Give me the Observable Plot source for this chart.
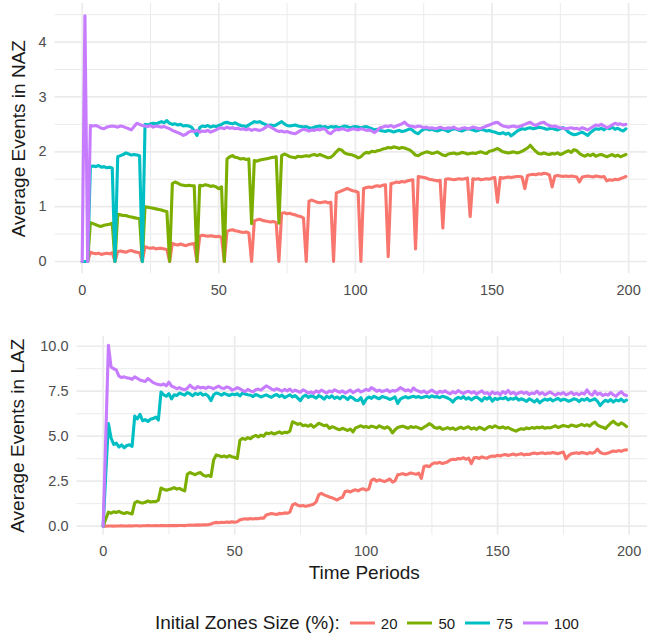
<!DOCTYPE html>
<html>
<head>
<meta charset="utf-8">
<script src="https://cdn.jsdelivr.net/npm/d3@7"></script>
<script src="https://cdn.jsdelivr.net/npm/@observablehq/plot@0.6"></script>
<style>
  body { margin: 0; background: #fff; font-family: "Liberation Sans", Arial, sans-serif; }
  #wrap { position: relative; width: 647px; height: 636px; overflow: hidden; }
  #naz { position: absolute; left: 0; top: 0; }
  #laz { position: absolute; left: 0; top: 300px; }
  #legend { position: absolute; left: 155px; top: 611px; height: 24px; display: flex; align-items: center; white-space: nowrap; }
  #legend .title { font-size: 19px; color: #1a1a1a; margin-right: 10px; }
  #legend .item { display: flex; align-items: center; margin-right: 10px; }
  #legend .item span { font-size: 15px; color: #1a1a1a; margin-left: 6px; }
</style>
</head>
<body>
<div id="wrap">
  <div id="naz"></div>
  <div id="laz"></div>
  <div id="legend"></div>
</div>
<script>
// Initial zone sizes (%) and their colours
const sizes = ["20", "50", "75", "100"];
const colors = ["#F8766D", "#7CAE00", "#00BFC4", "#C77CFF"];

// Axis ticks
const xTicks = [0, 50, 100, 150, 200];
const xMinor = [25, 75, 125, 175];
const nazTicks = [0, 1, 2, 3, 4];
const nazMinor = [0.5, 1.5, 2.5, 3.5, 4.5];
const lazTicks = [0, 2.5, 5, 7.5, 10];
const lazMinor = [1.25, 3.75, 6.25, 8.75];

// Average events in NAZ, periods 0..199
const naz20 = [
  0, 0, 0, 0.17, 0.15, 0.14, 0.15, 0.13, 0.14, 0.15,
  0.14, 0.16, 0, 0.18, 0.19, 0.18, 0.17, 0.19, 0.20, 0.18,
  0.17, 0.16, 0, 0.27, 0.25, 0.24, 0.25, 0.23, 0.24, 0.24,
  0.23, 0.22, 0, 0.33, 0.31, 0.30, 0.32, 0.30, 0.29, 0.31,
  0.32, 0.33, 0, 0.46, 0.48, 0.47, 0.46, 0.47, 0.46, 0.45,
  0.46, 0.44, 0, 0.55, 0.57, 0.58, 0.56, 0.55, 0.54, 0.53,
  0.54, 0.52, 0, 0.74, 0.76, 0.77, 0.75, 0.74, 0.73, 0.72,
  0.73, 0.71, 0, 0.88, 0.89, 0.87, 0.88, 0.86, 0.85, 0.83,
  0.82, 0.79, 0, 1.10, 1.12, 1.10, 1.08, 1.07, 1.08, 1.09,
  1.07, 1.08, 0, 1.25, 1.27, 1.29, 1.31, 1.33, 1.31, 1.29,
  1.28, 1.26, 0, 1.33, 1.35, 1.36, 1.35, 1.37, 1.38, 1.37,
  1.39, 1.40, 0.09, 1.42, 1.43, 1.45, 1.44, 1.46, 1.45, 1.47,
  1.48, 1.49, 0.23, 1.55, 1.54, 1.53, 1.52, 1.50, 1.49, 1.48,
  1.47, 1.48, 0.61, 1.50, 1.51, 1.50, 1.49, 1.50, 1.51, 1.50,
  1.51, 1.52, 0.82, 1.51, 1.50, 1.51, 1.49, 1.50, 1.51, 1.50,
  1.52, 1.53, 1.08, 1.53, 1.52, 1.53, 1.54, 1.53, 1.54, 1.55,
  1.55, 1.54, 1.33, 1.57, 1.58, 1.59, 1.58, 1.60, 1.59, 1.61,
  1.60, 1.58, 1.36, 1.56, 1.57, 1.56, 1.55, 1.56, 1.55, 1.56,
  1.55, 1.54, 1.45, 1.54, 1.55, 1.56, 1.55, 1.54, 1.56, 1.55,
  1.54, 1.55, 1.47, 1.49, 1.48, 1.50, 1.49, 1.51, 1.53, 1.55
];
const naz50 = [
  0, 0, 0, 0.71, 0.69, 0.67, 0.65, 0.64, 0.66, 0.67,
  0.68, 0.70, 0, 0.86, 0.85, 0.84, 0.84, 0.82, 0.81, 0.80,
  0.79, 0.78, 0, 1.00, 0.99, 0.98, 0.97, 0.96, 0.95, 0.94,
  0.92, 0.91, 0, 1.42, 1.45, 1.43, 1.40, 1.39, 1.38, 1.39,
  1.38, 1.38, 0, 1.39, 1.38, 1.40, 1.39, 1.37, 1.38, 1.36,
  1.33, 1.36, 0, 1.87, 1.91, 1.93, 1.90, 1.89, 1.87, 1.88,
  1.86, 1.87, 0.69, 1.84, 1.83, 1.85, 1.86, 1.87, 1.88, 1.89,
  1.90, 1.91, 0.70, 1.93, 1.96, 1.94, 1.91, 1.90, 1.89, 1.92,
  1.91, 1.92, 1.93, 1.92, 1.94, 1.95, 1.93, 1.95, 1.93, 1.91,
  1.89, 1.90, 1.94, 2.00, 2.05, 2.03, 1.98, 1.96, 1.95, 1.94,
  1.92, 1.89, 1.91, 1.96, 1.99, 1.98, 2.01, 2.00, 2.02, 2.03,
  2.05, 2.06, 2.08, 2.07, 2.09, 2.08, 2.06, 2.08, 2.07, 2.05,
  2.03, 1.99, 1.94, 1.93, 1.96, 1.98, 2.00, 1.99, 1.97, 1.98,
  2.00, 1.97, 1.94, 1.93, 1.96, 1.97, 1.98, 1.96, 1.97, 1.99,
  1.98, 1.96, 1.97, 1.98, 1.97, 1.99, 2.00, 1.98, 1.97, 2.01,
  2.02, 2.04, 2.06, 2.03, 2.00, 1.99, 1.98, 1.99, 2.00, 1.98,
  1.99, 2.01, 2.04, 2.07, 2.12, 2.06, 2.01, 1.97, 1.96, 1.98,
  1.96, 1.95, 1.97, 1.96, 1.98, 1.95, 1.97, 2.00, 2.02, 1.99,
  2.04, 2.02, 1.97, 1.94, 1.92, 1.95, 1.93, 1.96, 1.92, 1.94,
  1.95, 1.93, 1.91, 1.93, 1.95, 1.92, 1.94, 1.91, 1.93, 1.95
];
const naz75 = [
  0, 0, 0, 1.73, 1.74, 1.73, 1.75, 1.72, 1.73, 1.71,
  1.72, 1.70, 0, 1.91, 1.93, 1.95, 1.98, 1.96, 1.94, 1.95,
  1.94, 1.93, 0, 2.50, 2.49, 2.51, 2.52, 2.51, 2.53, 2.55,
  2.53, 2.57, 2.52, 2.50, 2.51, 2.49, 2.50, 2.47, 2.48, 2.47,
  2.45, 2.38, 2.30, 2.44, 2.47, 2.46, 2.48, 2.45, 2.47, 2.46,
  2.48, 2.50, 2.53, 2.54, 2.52, 2.51, 2.53, 2.50, 2.48, 2.47,
  2.46, 2.49, 2.52, 2.55, 2.54, 2.55, 2.52, 2.50, 2.48, 2.49,
  2.47, 2.49, 2.52, 2.55, 2.51, 2.48, 2.47, 2.48, 2.49, 2.47,
  2.46, 2.45, 2.46, 2.44, 2.43, 2.45, 2.46, 2.47, 2.45, 2.46,
  2.44, 2.46, 2.45, 2.46, 2.44, 2.45, 2.47, 2.46, 2.44, 2.45,
  2.46, 2.45, 2.44, 2.45, 2.46, 2.44, 2.42, 2.40, 2.41, 2.39,
  2.38, 2.37, 2.39, 2.38, 2.36, 2.38, 2.39, 2.37, 2.38, 2.40,
  2.42, 2.39, 2.35, 2.33, 2.38, 2.41, 2.42, 2.40, 2.41, 2.39,
  2.38, 2.40, 2.41, 2.39, 2.37, 2.40, 2.42, 2.41, 2.39, 2.38,
  2.40, 2.42, 2.41, 2.40, 2.38, 2.39, 2.41, 2.40, 2.38, 2.39,
  2.37, 2.36, 2.34, 2.33, 2.35, 2.32, 2.34, 2.29, 2.33, 2.37,
  2.40, 2.42, 2.41, 2.43, 2.44, 2.42, 2.43, 2.45, 2.44, 2.43,
  2.41, 2.42, 2.43, 2.41, 2.40, 2.42, 2.44, 2.41, 2.36, 2.33,
  2.31, 2.32, 2.34, 2.36, 2.33, 2.30, 2.35, 2.39, 2.42, 2.41,
  2.43, 2.40, 2.44, 2.42, 2.45, 2.41, 2.43, 2.40, 2.38, 2.42
];
const naz100 = [
  0, 4.48, 0, 2.48, 2.47, 2.48, 2.46, 2.43, 2.42, 2.45,
  2.46, 2.47, 2.46, 2.45, 2.47, 2.46, 2.44, 2.42, 2.40, 2.46,
  2.52, 2.50, 2.48, 2.47, 2.46, 2.48, 2.45, 2.47, 2.46, 2.45,
  2.46, 2.44, 2.42, 2.39, 2.37, 2.35, 2.33, 2.30, 2.32, 2.36,
  2.38, 2.37, 2.39, 2.36, 2.38, 2.37, 2.39, 2.36, 2.38, 2.40,
  2.43, 2.44, 2.42, 2.45, 2.43, 2.44, 2.42, 2.43, 2.41, 2.42,
  2.40, 2.42, 2.39, 2.41, 2.40, 2.39, 2.41, 2.44, 2.48, 2.45,
  2.42, 2.39, 2.37, 2.38, 2.36, 2.37, 2.35, 2.34, 2.33, 2.36,
  2.39, 2.41, 2.40, 2.38, 2.40, 2.39, 2.41, 2.40, 2.42, 2.41,
  2.35, 2.33, 2.38, 2.41, 2.40, 2.42, 2.41, 2.39, 2.40, 2.42,
  2.41, 2.40, 2.42, 2.41, 2.39, 2.40, 2.38, 2.35, 2.39, 2.44,
  2.45, 2.47, 2.46, 2.48, 2.45, 2.47, 2.49, 2.51, 2.54, 2.49,
  2.47, 2.46, 2.45, 2.47, 2.46, 2.44, 2.45, 2.43, 2.44, 2.42,
  2.43, 2.45, 2.43, 2.42, 2.44, 2.43, 2.45, 2.42, 2.41, 2.43,
  2.44, 2.42, 2.43, 2.45, 2.44, 2.42, 2.43, 2.45, 2.47, 2.49,
  2.51, 2.53, 2.54, 2.50, 2.47, 2.46, 2.45, 2.46, 2.47, 2.45,
  2.46, 2.48, 2.50, 2.52, 2.54, 2.50, 2.48, 2.51, 2.53, 2.54,
  2.50, 2.48, 2.46, 2.47, 2.45, 2.44, 2.43, 2.42, 2.43, 2.44,
  2.42, 2.43, 2.41, 2.44, 2.42, 2.40, 2.43, 2.46, 2.49, 2.48,
  2.50, 2.47, 2.44, 2.46, 2.49, 2.52, 2.50, 2.51, 2.49, 2.50
];

// Average events in LAZ, periods 0..199
const laz20 = [
  0, 0, 0.01, 0.01, 0, 0.01, 0.01, 0.02, 0.01, 0.01,
  0.02, 0.01, 0.02, 0.02, 0.01, 0.02, 0.02, 0.03, 0.02, 0.02,
  0.03, 0.02, 0.03, 0.03, 0.02, 0.03, 0.04, 0.03, 0.03, 0.04,
  0.04, 0.03, 0.05, 0.06, 0.05, 0.06, 0.07, 0.06, 0.08, 0.07,
  0.08, 0.12, 0.18, 0.21, 0.19, 0.22, 0.20, 0.23, 0.21, 0.24,
  0.22, 0.25, 0.35, 0.38, 0.41, 0.39, 0.42, 0.40, 0.43, 0.41,
  0.45, 0.44, 0.62, 0.66, 0.70, 0.68, 0.65, 0.71, 0.69, 0.74,
  0.72, 0.78, 1.18, 1.25, 1.16, 1.12, 1.15, 1.10, 1.14, 1.18,
  1.22, 1.35, 1.75, 1.82, 1.74, 1.68, 1.62, 1.58, 1.52, 1.45,
  1.55, 1.60, 1.92, 1.95, 1.90, 1.98, 2.02, 1.96, 2.05, 2.08,
  2.00, 2.06, 2.55, 2.62, 2.50, 2.58, 2.52, 2.48, 2.55, 2.62,
  2.45, 2.52, 2.85, 2.88, 2.92, 2.86, 2.90, 2.96, 2.92, 2.88,
  2.95, 2.66, 3.32, 3.36, 3.30, 3.45, 3.52, 3.50, 3.55, 3.48,
  3.52, 3.58, 3.68, 3.72, 3.70, 3.76, 3.74, 3.80, 3.72, 3.78,
  3.48, 3.80, 3.82, 3.76, 3.85, 3.80, 3.78, 3.86, 3.90, 3.88,
  3.94, 3.90, 3.96, 3.98, 3.93, 3.97, 4.01, 3.95, 3.99, 4.03,
  3.96, 4.00, 3.98, 4.04, 4.06, 4.02, 4.05, 4.08, 4.03, 4.07,
  4.05, 4.09, 4.06, 4.03, 4.08, 4.12, 3.74, 3.92, 4.02, 4.05,
  4.08, 4.04, 4.10, 4.06, 4.02, 4.09, 4.05, 4.12, 4.28, 4.10,
  4.04, 4.02, 4.06, 4.12, 4.18, 4.15, 4.20, 4.16, 4.22, 4.24
];
const laz50 = [
  0, 0.40, 0.78, 0.72, 0.80, 0.76, 0.82, 0.74, 0.70, 0.76,
  0.72, 0.68, 1.30, 1.38, 1.32, 1.28, 1.33, 1.40, 1.34, 1.37,
  1.36, 1.45, 2.12, 2.05, 2.00, 2.04, 2.08, 2.14, 2.06, 2.10,
  2.02, 1.96, 2.88, 2.98, 2.92, 2.86, 2.94, 2.98, 2.84, 2.78,
  2.82, 2.76, 3.68, 3.96, 3.92, 3.86, 3.90, 3.84, 3.92, 3.86,
  3.82, 3.76, 4.78, 4.88, 4.82, 4.92, 4.86, 4.98, 5.04, 4.96,
  5.06, 5.00, 5.18, 5.14, 5.20, 5.12, 5.18, 5.24, 5.16, 5.22,
  5.20, 5.28, 5.80, 5.74, 5.66, 5.70, 5.58, 5.62, 5.55, 5.64,
  5.50, 5.60, 5.72, 5.66, 5.58, 5.62, 5.44, 5.52, 5.48, 5.40,
  5.36, 5.44, 5.38, 5.32, 5.40, 5.24, 5.46, 5.52, 5.58, 5.50,
  5.54, 5.48, 5.56, 5.52, 5.46, 5.58, 5.50, 5.44, 5.52, 5.42,
  5.18, 5.36, 5.48, 5.52, 5.56, 5.50, 5.44, 5.54, 5.48, 5.52,
  5.46, 5.40, 5.50, 5.58, 5.70, 5.62, 5.48, 5.44, 5.50, 5.38,
  5.42, 5.48, 5.40, 5.46, 5.36, 5.44, 5.50, 5.42, 5.48, 5.52,
  5.40, 5.46, 5.38, 5.50, 5.44, 5.36, 5.46, 5.54, 5.48, 5.58,
  5.50, 5.46, 5.52, 5.44, 5.48, 5.40, 5.34, 5.28, 5.36, 5.42,
  5.38, 5.46, 5.42, 5.48, 5.44, 5.50, 5.46, 5.52, 5.44, 5.48,
  5.46, 5.52, 5.58, 5.48, 5.54, 5.60, 5.56, 5.52, 5.62, 5.58,
  5.54, 5.60, 5.66, 5.58, 5.64, 5.56, 5.70, 5.78, 5.62, 5.54,
  5.50, 5.42, 5.58, 5.72, 5.84, 5.70, 5.62, 5.74, 5.66, 5.54
];
const laz75 = [
  0, 2.90, 5.70, 4.90, 4.55, 4.62, 4.40, 4.52, 4.36, 4.48,
  4.52, 4.44, 6.12, 5.96, 6.22, 5.86, 5.92, 5.82, 5.94, 5.98,
  6.06, 5.90, 7.46, 7.30, 7.22, 7.36, 7.08, 7.30, 7.26, 7.40,
  7.34, 7.28, 7.42, 7.36, 7.24, 7.38, 7.32, 7.40, 7.28, 7.34,
  7.22, 6.98, 7.30, 7.40, 7.36, 7.28, 7.38, 7.32, 7.26, 7.34,
  7.30, 7.36, 7.24, 7.40, 7.34, 7.30, 7.28, 7.20, 7.32, 7.26,
  7.18, 7.24, 7.30, 7.22, 7.16, 7.26, 7.32, 7.20, 7.28, 7.14,
  7.22, 7.30, 7.18, 7.26, 7.12, 6.98, 7.20, 7.28, 7.16, 7.24,
  7.20, 7.12, 7.26, 7.18, 7.06, 7.22, 7.14, 7.24, 7.10, 7.18,
  7.08, 7.22, 7.16, 7.04, 7.20, 7.12, 7.00, 6.98, 7.14, 6.80,
  7.06, 7.18, 7.10, 7.22, 7.14, 7.08, 7.20, 7.16, 7.12, 7.04,
  7.10, 7.18, 6.82, 7.06, 7.14, 7.20, 7.12, 7.18, 7.22, 7.16,
  7.20, 7.14, 7.18, 7.22, 7.16, 7.24, 7.18, 7.20, 7.14, 7.22,
  7.18, 7.12, 7.04, 6.90, 7.08, 7.16, 7.10, 7.20, 7.06, 7.14,
  7.02, 7.12, 7.18, 7.08, 6.96, 7.14, 7.06, 7.18, 6.94, 7.10,
  7.04, 7.12, 7.08, 7.16, 7.02, 7.10, 7.06, 7.14, 7.00, 7.08,
  7.02, 6.94, 7.08, 7.00, 6.90, 7.04, 6.86, 6.98, 7.06, 7.00,
  7.08, 6.96, 7.04, 7.10, 6.98, 7.06, 7.02, 6.94, 7.00, 7.08,
  7.04, 6.92, 7.06, 7.00, 7.10, 6.96, 7.02, 7.08, 6.94, 6.70,
  6.88, 7.00, 6.92, 7.04, 6.90, 7.02, 6.96, 7.06, 6.92, 7.00
];
const laz100 = [
  0, 5.00, 10.05, 8.85, 8.75, 8.68, 8.34, 8.26, 8.30, 8.24,
  8.22, 8.16, 8.30, 8.22, 8.12, 8.08, 8.04, 8.20, 8.10, 7.98,
  7.92, 7.88, 7.84, 7.90, 7.80, 8.00, 7.78, 7.72, 7.64, 7.70,
  7.62, 7.58, 7.66, 7.84, 7.70, 7.64, 7.76, 7.68, 7.72, 7.66,
  7.74, 7.70, 7.64, 7.72, 7.78, 7.68, 7.66, 7.74, 7.70, 7.56,
  7.62, 7.70, 7.64, 7.54, 7.48, 7.60, 7.52, 7.46, 7.58, 7.62,
  7.56, 7.68, 7.80, 7.72, 7.62, 7.56, 7.64, 7.58, 7.50, 7.60,
  7.52, 7.62, 7.48, 7.56, 7.50, 7.44, 7.58, 7.50, 7.40, 7.46,
  7.38, 7.52, 7.44, 7.56, 7.48, 7.40, 7.52, 7.46, 7.58, 7.50,
  7.44, 7.52, 7.40, 7.48, 7.56, 7.42, 7.50, 7.58, 7.46, 7.52,
  7.60, 7.54, 7.70, 7.62, 7.50, 7.56, 7.48, 7.52, 7.58, 7.46,
  7.54, 7.50, 7.58, 7.70, 7.62, 7.52, 7.58, 7.48, 7.68, 7.56,
  7.50, 7.44, 7.52, 7.40, 7.48, 7.56, 7.46, 7.38, 7.50, 7.44,
  7.52, 7.42, 7.36, 7.48, 7.40, 7.54, 7.44, 7.38, 7.46, 7.50,
  7.40, 7.48, 7.34, 7.44, 7.52, 7.38, 7.42, 7.30, 7.46, 7.36,
  7.42, 7.30, 7.48, 7.38, 7.54, 7.36, 7.44, 7.32, 7.40, 7.46,
  7.38, 7.44, 7.32, 7.40, 7.36, 7.50, 7.34, 7.42, 7.30, 7.38,
  7.46, 7.36, 7.28, 7.38, 7.34, 7.42, 7.30, 7.36, 7.44, 7.32,
  7.38, 7.30, 7.40, 7.34, 7.58, 7.36, 7.28, 7.50, 7.32, 7.40,
  7.26, 7.34, 7.28, 7.42, 7.30, 7.22, 7.36, 7.48, 7.32, 7.26
];

// Long-format rows: one per (period, zone size)
function toRows(seriesList) {
  return seriesList.flatMap((values, i) =>
    values.map((v, t) => ({ period: t, value: v, size: sizes[i] })));
}

const FONT = '"Liberation Sans", Arial, sans-serif';
const GRID = "#EBEBEB";

function panel({ rows, yDomain, yTicks, yMinor, yFormat, yLabel, xLabel,
                 width, height, marginLeft, marginTop, marginBottom, xDomain, yTitleDx }) {
  const marks = [
    Plot.ruleY(yMinor, { stroke: GRID, strokeWidth: 1 }),
    Plot.ruleX(xMinor, { stroke: GRID, strokeWidth: 1 }),
    Plot.ruleY(yTicks, { stroke: GRID, strokeWidth: 1.7 }),
    Plot.ruleX(xTicks, { stroke: GRID, strokeWidth: 1.7 }),
    Plot.axisX(xTicks, { tickSize: 0, tickPadding: 11, fontSize: 14.5, label: null }),
    Plot.axisY(yTicks, { tickSize: 0, tickPadding: 8.5, fontSize: 14.5, tickFormat: yFormat, label: null }),
    Plot.lineY(rows, { x: "period", y: "value", stroke: "size", strokeWidth: 3.1,
                       strokeLinejoin: "round", strokeLinecap: "round" }),
    Plot.text([yLabel], { text: d => d, frameAnchor: "left", textAnchor: "middle", lineAnchor: "middle",
                          rotate: -90, dx: yTitleDx, fontSize: 19, fill: "#1a1a1a" })
  ];
  if (xLabel) {
    marks.push(Plot.text([xLabel], { text: d => d, frameAnchor: "bottom", textAnchor: "middle",
                                     lineAnchor: "middle", dx: 2, dy: 38,
                                     fontSize: 19, fill: "#1a1a1a" }));
  }
  return Plot.plot({
    width, height, marginLeft, marginRight: 0, marginTop, marginBottom,
    style: { fontFamily: FONT, color: "#4D4D4D", background: "transparent", overflow: "visible" },
    x: { domain: xDomain },
    y: { domain: yDomain },
    color: { domain: sizes, range: colors },
    marks
  });
}

document.getElementById("naz").append(panel({
  rows: toRows([naz20, naz50, naz75, naz100]),
  yDomain: [-0.224, 4.704], yTicks: nazTicks, yMinor: nazMinor, yFormat: d3.format("d"),
  yLabel: "Average Events in NAZ", xLabel: null,
  width: 647, height: 300, marginLeft: 54.5, marginTop: 3, marginBottom: 26.7,
  xDomain: [-9.95, 206.9], yTitleDx: -36
}));

document.getElementById("laz").append(panel({
  rows: toRows([laz20, laz50, laz75, laz100]),
  yDomain: [-0.5025, 10.5525], yTicks: lazTicks, yMinor: lazMinor, yFormat: d3.format(".1f"),
  yLabel: "Average Events in LAZ", xLabel: "Time Periods",
  width: 647, height: 285, marginLeft: 76.5, marginTop: 35.8, marginBottom: 50.3,
  xDomain: [-9.95, 207], yTitleDx: -59
}));

// Legend below both panels
const legend = d3.select("#legend");
legend.append("span").attr("class", "title").text("Initial Zones Size (%):");
sizes.forEach((s, i) => {
  const item = legend.append("div").attr("class", "item");
  const svg = item.append("svg").attr("width", 25).attr("height", 6);
  svg.append("line").attr("x1", 0).attr("x2", 25).attr("y1", 3).attr("y2", 3)
    .attr("stroke", colors[i]).attr("stroke-width", 3);
  item.append("span").text(s);
});
</script>
</body>
</html>
